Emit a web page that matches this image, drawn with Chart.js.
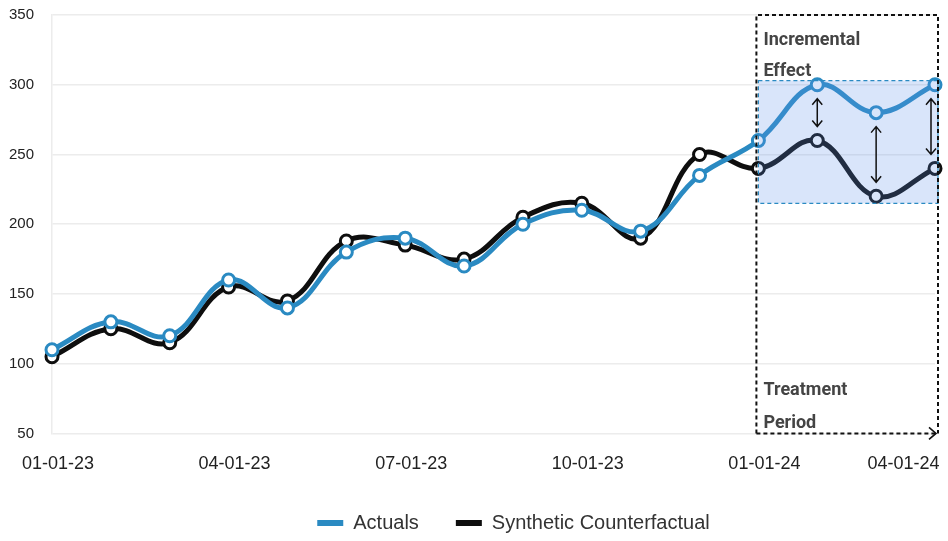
<!DOCTYPE html>
<html>
<head>
<meta charset="utf-8">
<script src="https://cdn.jsdelivr.net/npm/chart.js@4"></script>
<style>
  html, body { margin: 0; padding: 0; background: #fff; }
  #wrap { width: 948px; height: 541px; }
</style>
</head>
<body>
<div id="wrap"><canvas id="effectChart"></canvas></div>
<script>
// monthly dates, first of month
const months = ['01-01-23', '02-01-23', '03-01-23', '04-01-23', '05-01-23', '06-01-23', '07-01-23', '08-01-23',
                '09-01-23', '10-01-23', '11-01-23', '12-01-23', '01-01-24', '02-01-24', '03-01-24', '04-01-24'];
const actuals = [110, 130, 120, 160, 140, 180, 190, 170, 200, 210, 195, 235, 260, 300, 280, 300];
const counterfactual = [105, 125, 115, 155, 145, 188, 185, 175, 205, 215, 190, 250, 240, 260, 220, 240];
const yTicks = [50, 100, 150, 200, 250, 300, 350];

// treatment period starts at this index, effect band range
const treatStart = 12;
const effectBand = [215, 303];
const arrowIdx = [13, 14, 15];

const blue = '#2a8ac2';
const black = '#0e0e0e';

// draws the treatment window, effect band and arrows
const treatmentPlugin = {
    id: 'treatment',
    afterLayout(chart) {
        // legend sits a bit right of centre in the original
        chart.legend.left += 46;
        chart.legend.right += 46;
    },
    afterDatasetsDraw(chart) {
        const ctx = chart.ctx;
        const xs = chart.scales.x;
        const ys = chart.scales.y;
        const area = chart.chartArea;
        const x0 = xs.getPixelForValue(treatStart);
        const x1 = area.right + 3;

        ctx.save();
        // effect band
        const by0 = ys.getPixelForValue(effectBand[1]);
        const by1 = ys.getPixelForValue(effectBand[0]);
        ctx.fillStyle = 'rgba(95, 145, 235, 0.24)';
        ctx.fillRect(x0, by0, x1 - x0, by1 - by0);
        ctx.setLineDash([4, 3]);
        ctx.lineWidth = 1.2;
        ctx.strokeStyle = blue;
        ctx.strokeRect(x0, by0, x1 - x0, by1 - by0);

        // outer dashed window
        const top = ys.getPixelForValue(350);
        const bottom = ys.getPixelForValue(50);
        ctx.strokeStyle = '#111';
        ctx.lineWidth = 2;
        ctx.setLineDash([4, 3]);
        ctx.beginPath();
        ctx.moveTo(x0 - 2, bottom);
        ctx.lineTo(x0 - 2, top);
        ctx.lineTo(x1, top);
        ctx.lineTo(x1, bottom);
        ctx.stroke();
        ctx.beginPath();
        ctx.moveTo(x0 - 2, bottom);
        ctx.lineTo(x1 - 2, bottom);
        ctx.stroke();
        ctx.setLineDash([]);
        ctx.lineWidth = 1.6;
        ctx.beginPath();
        ctx.moveTo(x1 - 9, bottom - 6);
        ctx.lineTo(x1 - 2, bottom);
        ctx.lineTo(x1 - 9, bottom + 6);
        ctx.stroke();

        // double arrows between the lines
        ctx.strokeStyle = '#111';
        ctx.lineWidth = 1.5;
        arrowIdx.forEach(function(i) {
            let ax = xs.getPixelForValue(i);
            if (ax > area.right - 4) ax = area.right - 4;
            const ya = ys.getPixelForValue(actuals[i]) + 14;
            const yc = ys.getPixelForValue(counterfactual[i]) - 14;
            ctx.beginPath();
            ctx.moveTo(ax, ya);
            ctx.lineTo(ax, yc);
            ctx.moveTo(ax - 5, ya + 6);
            ctx.lineTo(ax, ya);
            ctx.lineTo(ax + 5, ya + 6);
            ctx.moveTo(ax - 5, yc - 6);
            ctx.lineTo(ax, yc);
            ctx.lineTo(ax + 5, yc - 6);
            ctx.stroke();
        });

        // labels
        ctx.fillStyle = '#444';
        ctx.font = 'bold 18px Roboto';
        ctx.textBaseline = 'alphabetic';
        ctx.textAlign = 'left';
        ctx.fillText('Incremental', x0 + 5, top + 30);
        ctx.fillText('Effect', x0 + 5, top + 61);
        ctx.fillText('Treatment', x0 + 5, bottom - 38);
        ctx.fillText('Period', x0 + 5, bottom - 5);
        ctx.restore();
    }
};

const ctx = document.getElementById('effectChart');
new Chart(ctx, {
    type: 'line',
    data: {
        labels: months,
        datasets: [{
            label: 'Actuals',
            data: actuals,
            borderColor: blue,
            backgroundColor: blue,
            borderWidth: 5,
            tension: 0.4,
            pointRadius: 6,
            pointBorderWidth: 3,
            pointBackgroundColor: '#fff',
            pointBorderColor: blue
        }, {
            label: 'Synthetic Counterfactual',
            data: counterfactual,
            borderColor: black,
            backgroundColor: black,
            borderWidth: 5,
            tension: 0.4,
            pointRadius: 6,
            pointBorderWidth: 3,
            pointBackgroundColor: '#fff',
            pointBorderColor: black
        }]
    },
    options: {
        responsive: true,
        maintainAspectRatio: false,
        animation: false,
        layout: {
            padding: { left: 0, right: 13, top: 0, bottom: -2 }
        },
        scales: {
            x: {
                grid: { display: false },
                border: { display: false },
                afterFit: function(scale) {
                    scale.paddingLeft = 0;
                    scale.paddingRight = 0;
                    scale.height -= 11;
                },
                ticks: {
                    autoSkip: false,
                    maxRotation: 0,
                    padding: 12,
                    labelOffset: 6,
                    color: '#222',
                    font: { family: 'Liberation Sans', size: 18 },
                    callback: function(value, index) {
                        if (index === months.length - 1) {
                            // pull the last date back inside the plot
                            return months[index] + '\u00a0'.repeat(15);
                        }
                        return index % 3 === 0 ? months[index] : '';
                    }
                }
            },
            y: {
                min: yTicks[0],
                max: yTicks[yTicks.length - 1],
                afterBuildTicks: function(scale) {
                    scale.ticks = yTicks.map(function(v) { return { value: v }; });
                },
                afterFit: function(scale) {
                    scale.width = 52;
                    scale.paddingTop = 15;
                    scale.paddingBottom = 0;
                },
                grid: { color: '#ececec', lineWidth: 1.5, drawTicks: false },
                border: { display: true, color: '#ececec', width: 1.5 },
                ticks: {
                    padding: 18,
                    color: '#222',
                    font: { family: 'Liberation Sans', size: 15 }
                }
            }
        },
        plugins: {
            legend: {
                position: 'bottom',
                labels: {
                    boxWidth: 26,
                    boxHeight: 6,
                    padding: 37,
                    color: '#333',
                    font: { family: 'Liberation Sans', size: 20 },
                    generateLabels: function(chart) {
                        const items = Chart.defaults.plugins.legend.labels.generateLabels(chart);
                        items.forEach(function(item) { item.lineWidth = 0; });
                        return items;
                    }
                }
            },
            tooltip: { enabled: false }
        }
    },
    plugins: [treatmentPlugin]
});
</script>
</body>
</html>
